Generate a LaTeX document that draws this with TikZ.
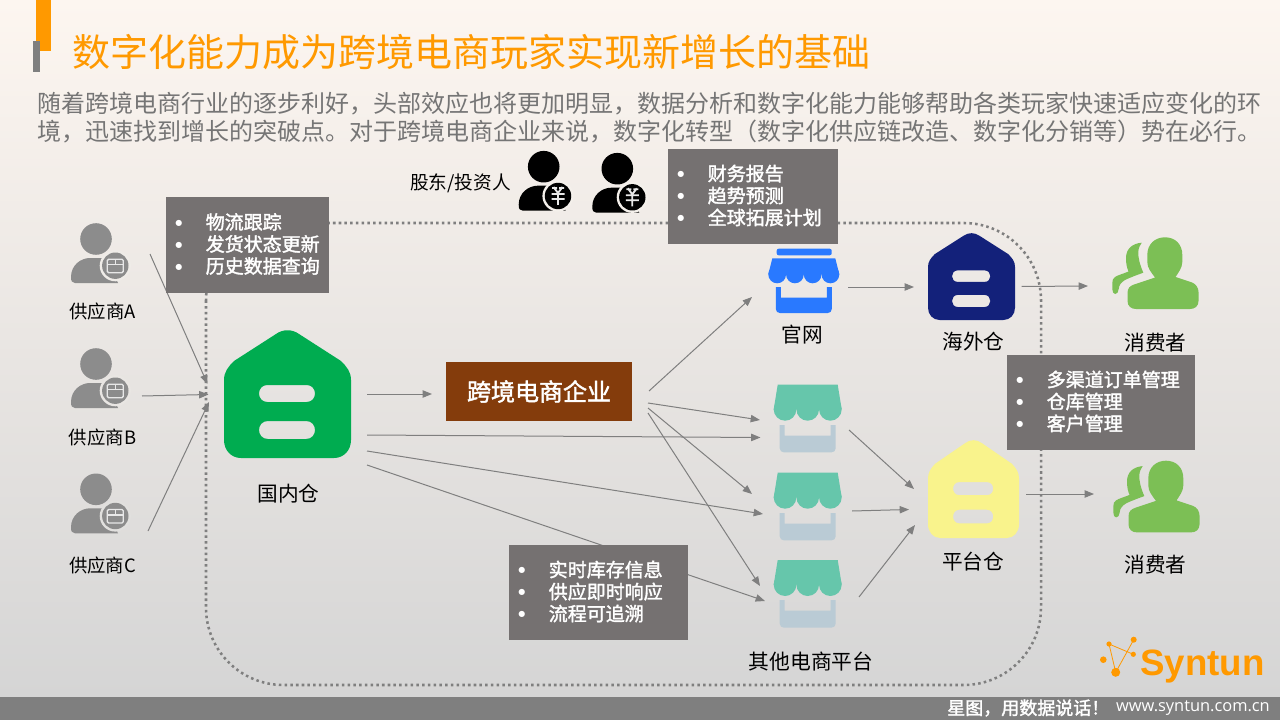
\documentclass[tikz,border=0pt]{standalone}
\usepackage{fontspec}
\setmainfont{Noto Sans CJK SC}
\newfontfamily\cjkb[FakeBold=1.8]{Noto Sans CJK SC}
\newfontfamily\latinfont{Open Sans}
\newfontfamily\logofont{Liberation Sans}
\newfontfamily\dotfont{DejaVu Sans}
\usetikzlibrary{arrows.meta}
\definecolor{orangeA}{HTML}{FF9900}
\definecolor{greyA}{HTML}{7F7F7F}
\definecolor{introgrey}{HTML}{757575}
\definecolor{boxgrey}{HTML}{757171}
\definecolor{persongrey}{HTML}{8C8C8C}
\definecolor{storegreen}{HTML}{66C6AB}
\definecolor{storeblue}{HTML}{BACBD5}
\definecolor{webblue}{HTML}{2979FF}
\definecolor{usergreen}{HTML}{7CBF55}
\definecolor{bgtop}{HTML}{FDF6F0}
\definecolor{bgbot}{HTML}{D5D5D5}
\definecolor{housegreen}{HTML}{00AC50}
\definecolor{housenavy}{HTML}{13217A}
\definecolor{houseyellow}{HTML}{F9F38C}
\definecolor{corebrown}{HTML}{843C0C}
\definecolor{ringA}{HTML}{EFECE8}
\definecolor{ringB}{HTML}{E9E6E3}
\definecolor{ringC}{HTML}{E1E0DE}
\definecolor{ringD}{HTML}{F4F0EB}
\definecolor{glyphw}{HTML}{E8E8E8}
\tikzset{
  conn/.style={draw=greyA,line width=0.75pt,-{Triangle[length=7pt,width=5.5pt]}},
  gbox/.style={fill=boxgrey,text=white,inner xsep=7pt,inner ysep=0pt,align=left,font=\cjkb\fontsize{14.25}{16.5}\selectfont},
  lab/.style={inner sep=0pt,text=black},
  ghost/.style={inner sep=0pt,outer sep=0pt},
}
\newcommand\inode[5]{\node[ghost,minimum width=#4*0.75pt,minimum height=#5*0.75pt] (#1) at (#2,#3) {};}
\newcommand\cn[6]{\draw[conn] ([shift={(#2,#3)}]#1.center) -- ([shift={(#5,#6)}]#4.center);}
\newcommand\bul{\makebox[22.8pt][l]{\raisebox{3pt}{\dotfont\fontsize{6}{6}\selectfont ●}}}
\newcommand\liftup{\par\vspace{1.5pt}}
% name x y w h colour
\newcommand\myhouse[6]{%
  \inode{#1}{#2+#4/2}{#3+#5/2}{#4}{#5}
  \begin{scope}[shift={(#2,#3)},xscale=#4/127,yscale=#5/128]
  \fill[#6,even odd rule] (0,110) -- (0,50) .. controls (0,42) and (4,37) .. (10,31) -- (52,4)
   .. controls (59,-1) and (68,-1) .. (75,4) -- (117,31) .. controls (123,37) and (127,42) .. (127,50)
   -- (127,110) .. controls (127,120) and (120,128) .. (110,128) -- (17,128) .. controls (7,128) and (0,120) .. (0,110) -- cycle
   (43.5,55) -- (82.5,55) .. controls (93.8,55) and (93.8,72) .. (82.5,72) -- (43.5,72) .. controls (32.2,72) and (32.2,55) .. (43.5,55) -- cycle
   (44,91) -- (82,91) .. controls (94,91) and (94,109) .. (82,109) -- (44,109) .. controls (32,109) and (32,91) .. (44,91) -- cycle;
  \end{scope}}
% x y w awnH lobes gap uH colourA colourB
\newcommand\mystore[9]{%
  \begin{scope}[shift={(#1,#2)}]
  \pgfmathsetmacro\lobr{#3/(2*#5)}
  \pgfmathsetmacro\lobb{#4-\lobr}
  \fill[#8] (4,0) -- (#3-4,0) -- (#3,\lobb) -- (0,\lobb) -- cycle;
  \foreach \i in {1,...,#5}{\fill[#8] ({(2*\i-1)*\lobr},\lobb) circle (\lobr);}
  \pgfmathsetmacro\utop{#4+#6}
  \pgfmathsetmacro\ubot{#4+#6+#7}
  \fill[#9] (#3/2-28,\utop) -- (#3/2-28,\ubot-4) .. controls (#3/2-28,\ubot-1.5) and (#3/2-26,\ubot) .. (#3/2-24,\ubot)
    -- (#3/2+24,\ubot) .. controls (#3/2+26,\ubot) and (#3/2+28,\ubot-1.5) .. (#3/2+28,\ubot-4) -- (#3/2+28,\utop) -- (#3/2+23,\utop)
    -- (#3/2+23,\utop+10.5) -- (#3/2-23,\utop+10.5) -- (#3/2-23,\utop) -- cycle;
  \end{scope}}
% hx hy bdx bdy colour ring
\newcommand\myperson[6]{%
  \begin{scope}[shift={(#1,#2)}]
  \fill[#5] (0,0) circle (15.8);
  \fill[#5] (-25,38) .. controls (-25,26) and (-15,19) .. (-6,19) -- (10,19) -- (22,44) -- (-21,44) .. controls (-24,44) and (-25,42) .. (-25,38) -- cycle;
  \fill[#6] (#3,#4) circle (15.6);
  \fill[#5] (#3,#4) circle (13.2);
  \end{scope}}
\newcommand\boxglyph[2]{%
  \begin{scope}[shift={(#1,#2)}]
  \draw[glyphw,line width=1pt,rounded corners=1pt] (-8,-6.5) rectangle (8,7);
  \draw[glyphw,line width=1pt] (-8,-1) -- (8,-1) (0,-6.5) -- (0,-1);
  \end{scope}}
\newcommand\yenglyph[2]{%
  \begin{scope}[shift={(#1,#2)}]
  \draw[glyphw,line width=1.4pt] (-6,-8) -- (-1,-8) (6,-8) -- (1,-8) (-4.5,-9) -- (0,-3) -- (4.5,-9) (0,-3) -- (0,9)
   (-6.5,-2) -- (6.5,-2) (-6.5,3) -- (6.5,3);
  \end{scope}}
\newcommand\myuser[2]{%
  \begin{scope}[shift={(#1,#2)}]
  \fill[usergreen] (1147.3,255) .. controls (1147.3,244) and (1155,237.3) .. (1165,237.3) .. controls (1175,237.3) and (1182.3,244) .. (1182.3,255)
    -- (1182.3,262) .. controls (1182.3,268) and (1178,273) .. (1175.5,277) -- (1192,282.5) .. controls (1196,284) and (1198.5,288) .. (1198.5,292)
    -- (1198.5,301) .. controls (1198.5,306) and (1195,309) .. (1190,309) -- (1136,309) .. controls (1131,309) and (1127.5,306) .. (1127.5,301)
    -- (1127.5,293) .. controls (1127.5,288) and (1130,286) .. (1134,284.5) -- (1155,277.5) .. controls (1151,272) and (1147.3,268) .. (1147.3,262) -- cycle;
  \fill[usergreen] (1141.7,242.7) .. controls (1132,243.5) and (1126,249) .. (1126,258) .. controls (1126,264) and (1127,268) .. (1128.5,271.5)
    .. controls (1124,273.5) and (1118,275) .. (1115,277) .. controls (1113,278.5) and (1112.3,280) .. (1112.3,283) -- (1112.3,289)
    .. controls (1112.3,292) and (1113.5,294) .. (1115.2,294) .. controls (1117,294) and (1118.5,292) .. (1118.7,289)
    .. controls (1119,285) and (1121,282.5) .. (1125,280) .. controls (1130,277.5) and (1137,275) .. (1143.3,272.7)
    .. controls (1140,265) and (1138,258) .. (1138.3,251.7) .. controls (1138.5,248) and (1140,245) .. (1141.7,242.7) -- cycle;
  \end{scope}}
\begin{document}
\begin{tikzpicture}[x=0.75pt,y=-0.75pt]
\useasboundingbox (0,0) rectangle (1280,720);
\shade[top color=bgtop,bottom color=bgbot] (0,0) rectangle (1280,697);
\fill[greyA] (0,697) rectangle (1280,720);
% accent
\fill[orangeA] (36,0) rectangle (51,51);
\fill[greyA] (33,41) rectangle (40,72);
% title and intro
\node[lab,anchor=west,text=orangeA,font=\fontsize{28.5}{32}\selectfont] (title) at (72.5,52) {数字化能力成为跨境电商玩家实现新增长的基础};
\node[lab,anchor=west,text=introgrey,font=\fontsize{18}{21}\selectfont] (introA) at (37,103.5) {随着跨境电商行业的逐步利好，头部效应也将更加明显，数据分析和数字化能力能够帮助各类玩家快速适应变化的环};
\node[lab,anchor=west,text=introgrey,font=\fontsize{18}{21}\selectfont] (introB) at (37,131.5) {境，迅速找到增长的突破点。对于跨境电商企业来说，数字化转型（数字化供应链改造、数字化分销等）势在必行。};
% dotted frame
\draw[greyA,line width=1.9pt,dash pattern=on 1.9pt off 2.4pt,rounded corners=58pt] (206,223) rectangle (1041,685);
% anchors of icons
\inode{supA}{100}{253}{59}{60}
\inode{supB}{100}{378}{59}{60}
\inode{supC}{100}{503}{59}{60}
\inode{web}{803.5}{280.5}{71}{65}
\inode{st1}{808}{418.5}{68}{68}
\inode{st2}{808}{506.5}{68}{68}
\inode{st3}{808}{594}{68}{68}
\inode{cu1}{1155.5}{273}{87}{72}
\inode{cu2}{1156.5}{496}{87}{72}
\myhouse{dc}{224}{330}{127}{128}{housegreen}
\myhouse{ow}{928}{233}{87}{87}{housenavy}
\myhouse{pw}{928}{440}{91}{98}{houseyellow}
\node[fill=corebrown,text=white,minimum width=139.5pt,minimum height=44.25pt,inner sep=0pt,font=\cjkb\fontsize{18}{21}\selectfont] (core) at (539,391.5) {跨境电商企业};
% connectors
\cn{supA}{50}{1}{dc}{-80}{-10}
\cn{supB}{42}{18}{dc}{-79}{0.5}
\cn{supC}{48}{28}{dc}{-78.5}{8}
\cn{dc}{79.5}{0}{core}{-107}{2.5}
\cn{dc}{79.5}{41}{st1}{-47.5}{19}
\cn{dc}{79.5}{57}{st2}{-45}{7.5}
\cn{dc}{79.5}{71}{st3}{-43}{7}
\cn{core}{110}{-0.5}{web}{-51.5}{16.5}
\cn{core}{109}{11.5}{st1}{-48}{1.5}
\cn{core}{109}{16.5}{st2}{-56}{-12.5}
\cn{core}{109}{21.5}{st3}{-48}{-8}
\cn{web}{44.5}{6.5}{ow}{-57.5}{10.5}
\cn{ow}{50}{10}{cu1}{-67.5}{13}
\cn{st1}{41}{11.5}{pw}{-59.5}{0}
\cn{st2}{44}{4.5}{pw}{-64.5}{20.5}
\cn{st3}{51}{3}{pw}{-58.5}{36}
\cn{pw}{52.5}{5}{cu2}{-62.5}{-2}
% suppliers
\myperson{96}{239}{19.3}{26.7}{persongrey}{ringA}
\boxglyph{115.3}{265.7}
\myperson{96}{364}{19.3}{26.7}{persongrey}{ringB}
\boxglyph{115.3}{390.7}
\myperson{96}{489.3}{19.3}{26.7}{persongrey}{ringC}
\boxglyph{115.3}{516}
\node[lab,font=\fontsize{13.8}{16}\selectfont] (lA) at (102.5,311.5) {供应商A};
\node[lab,font=\fontsize{13.8}{16}\selectfont] (lB) at (102.5,437.5) {供应商B};
\node[lab,font=\fontsize{13.8}{16}\selectfont] (lC) at (102.5,565.5) {供应商C};
\node[lab,font=\fontsize{15.5}{18}\selectfont] (ldc) at (288.5,493.5) {国内仓};
% investors
\node[lab,font=\fontsize{14}{16}\selectfont] (linv) at (460.5,183) {股东/投资人};
\myperson{543.7}{166.7}{14.3}{29.3}{black}{ringD}
\yenglyph{558}{196}
\myperson{617.3}{168.7}{15}{28.6}{black}{ringD}
\yenglyph{632.3}{197.3}
% shops
\fill[webblue,rounded corners=1.5pt] (776.7,248.7) rectangle (831.7,255.3);
\mystore{768.3}{258.3}{71}{25}{4}{3.7}{26}{webblue}{webblue}
\mystore{773.7}{384.7}{68}{36}{3}{4.3}{27.3}{storegreen}{storeblue}
\mystore{773.7}{472.7}{68}{36}{3}{4.3}{27.3}{storegreen}{storeblue}
\mystore{773.7}{560}{68}{36}{3}{4}{27.6}{storegreen}{storeblue}
\node[lab,font=\fontsize{15.5}{18}\selectfont] (lweb) at (802,334.5) {官网};
\node[lab,font=\fontsize{15.5}{18}\selectfont] (low) at (973.5,341.5) {海外仓};
\node[lab,font=\fontsize{15.5}{18}\selectfont] (lpw) at (973,561.5) {平台仓};
\node[lab,font=\fontsize{15.6}{18}\selectfont] (lst) at (811,661.5) {其他电商平台};
% consumers
\myuser{0}{0}
\myuser{1}{223.4}
\node[lab,font=\fontsize{15.5}{18}\selectfont] (lc1) at (1155.5,342.5) {消费者};
\node[lab,font=\fontsize{15.5}{18}\selectfont] (lc2) at (1155.5,564.5) {消费者};
% callouts
\node[gbox,minimum width=122.25pt,minimum height=72pt,text width=108.25pt] (bxA) at (247.5,245) {\bul 物流跟踪\\\bul 发货状态更新\\\bul 历史数据查询\liftup};
\node[gbox,minimum width=127.5pt,minimum height=71.25pt,text width=113.5pt] (bxB) at (753,196.5) {\bul 财务报告\\\bul 趋势预测\\\bul 全球拓展计划\liftup};
\node[gbox,minimum width=141pt,minimum height=71.25pt,text width=127pt] (bxC) at (1101,402.5) {\bul 多渠道订单管理\\\bul 仓库管理\\\bul 客户管理\liftup};
\node[gbox,minimum width=134.25pt,minimum height=71.25pt,text width=120.25pt] (bxD) at (598.5,592.5) {\bul 实时库存信息\\\bul 供应即时响应\\\bul 流程可追溯\liftup};
% logo
\draw[orangeA,line width=0.6pt] (1109,644) -- (1133.3,654.3) (1109,644) -- (1115.7,672.3) -- (1133.7,639.7);
\fill[orangeA] (1109,644) circle (2.6) (1133.7,639.7) circle (3) (1133.3,654.3) circle (2.6) (1103.3,659.7) circle (3.3) (1115.7,672.3) circle (4.5);
\node[lab,anchor=west,text=orangeA,font=\logofont\fontsize{27.5}{30}\selectfont\bfseries] (logo) at (1140,666) {Syntun};
% footer
\node[lab,anchor=west,text=white,font=\cjkb\fontsize{13.5}{16}\selectfont] (slogan) at (947,708) {星图，用数据说话！};
\node[lab,anchor=east,text=white,font=\latinfont\fontsize{12.3}{16}\selectfont] (url) at (1270,708.5) {www.syntun.com.cn};
\end{tikzpicture}
\end{document}
